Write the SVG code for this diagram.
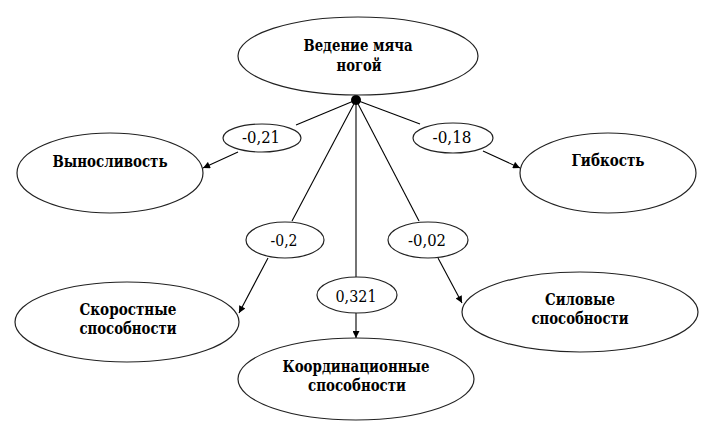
<svg xmlns="http://www.w3.org/2000/svg" width="709" height="423" viewBox="0 0 709 423">
<style>
.n{fill:#fff;stroke:#222;stroke-width:1.2}
.t{font-family:'DejaVu Serif','Liberation Serif',serif;font-weight:bold;font-size:16px;text-anchor:middle;fill:#000}
.l{font-family:'DejaVu Serif','Liberation Serif',serif;font-size:17px;text-anchor:middle;fill:#000}
.c{stroke:#000;stroke-width:1.1;fill:none}
</style>
<defs>
<marker id="arr" viewBox="0 0 10 10" refX="10" refY="5" markerWidth="9" markerHeight="7" markerUnits="userSpaceOnUse" orient="auto">
<path d="M0,0 L10,5 L0,10 z" fill="#000"/>
</marker>
</defs>
<rect width="709" height="423" fill="#fff"/>
<g id="connectors">
<line class="c" x1="356" y1="100" x2="296" y2="125"/>
<line class="c" x1="238" y1="152" x2="203" y2="168" marker-end="url(#arr)"/>
<line class="c" x1="356" y1="100" x2="420" y2="124"/>
<line class="c" x1="483" y1="151" x2="520" y2="168" marker-end="url(#arr)"/>
<line class="c" x1="356" y1="100" x2="292" y2="221"/>
<line class="c" x1="268" y1="258" x2="239" y2="313" marker-end="url(#arr)"/>
<line class="c" x1="356" y1="100" x2="419" y2="221"/>
<line class="c" x1="438" y1="258" x2="462" y2="303" marker-end="url(#arr)"/>
<line class="c" x1="356" y1="100" x2="356" y2="277"/>
<line class="c" x1="356" y1="313" x2="356" y2="338" marker-end="url(#arr)"/>
<circle cx="356" cy="100" r="5" fill="#000"/>
</g>
<g id="n-main"><ellipse class="n" cx="358" cy="56" rx="120" ry="39"/><text class="t" x="358" y="51" textLength="109" lengthAdjust="spacingAndGlyphs">Ведение мяча</text><text class="t" x="359" y="71" textLength="45" lengthAdjust="spacingAndGlyphs">ногой</text></g>
<g id="n-vyn"><ellipse class="n" cx="110" cy="173" rx="93" ry="40"/><text class="t" x="110" y="167" textLength="115" lengthAdjust="spacingAndGlyphs">Выносливость</text></g>
<g id="n-gib"><ellipse class="n" cx="608" cy="173" rx="88" ry="40"/><text class="t" x="608" y="166" textLength="73" lengthAdjust="spacingAndGlyphs">Гибкость</text></g>
<g id="n-skor"><ellipse class="n" cx="127" cy="322" rx="112" ry="40"/><text class="t" x="128" y="315" textLength="97" lengthAdjust="spacingAndGlyphs">Скоростные</text><text class="t" x="128" y="334" textLength="97" lengthAdjust="spacingAndGlyphs">способности</text></g>
<g id="n-sil"><ellipse class="n" cx="580" cy="312" rx="118" ry="40"/><text class="t" x="580" y="305" textLength="70" lengthAdjust="spacingAndGlyphs">Силовые</text><text class="t" x="580" y="324" textLength="97" lengthAdjust="spacingAndGlyphs">способности</text></g>
<g id="n-koord"><ellipse class="n" cx="356" cy="379" rx="118" ry="41"/><text class="t" x="356" y="372" textLength="147" lengthAdjust="spacingAndGlyphs">Координационные</text><text class="t" x="357" y="391" textLength="98" lengthAdjust="spacingAndGlyphs">способности</text></g>
<g id="lab1"><ellipse class="n" cx="262" cy="138" rx="39" ry="14"/><text class="l" x="261" y="143" textLength="38" lengthAdjust="spacingAndGlyphs">-0,21</text></g>
<g id="lab2"><ellipse class="n" cx="453" cy="138" rx="40" ry="15"/><text class="l" x="452" y="143" textLength="39" lengthAdjust="spacingAndGlyphs">-0,18</text></g>
<g id="lab3"><ellipse class="n" cx="285" cy="240" rx="39" ry="18"/><text class="l" x="284" y="246" textLength="27" lengthAdjust="spacingAndGlyphs">-0,2</text></g>
<g id="lab4"><ellipse class="n" cx="428" cy="240" rx="40" ry="18"/><text class="l" x="427" y="246" textLength="38" lengthAdjust="spacingAndGlyphs">-0,02</text></g>
<g id="lab5"><ellipse class="n" cx="357" cy="295" rx="40" ry="18"/><text class="l" x="356" y="302" textLength="41" lengthAdjust="spacingAndGlyphs">0,321</text></g>
</svg>
